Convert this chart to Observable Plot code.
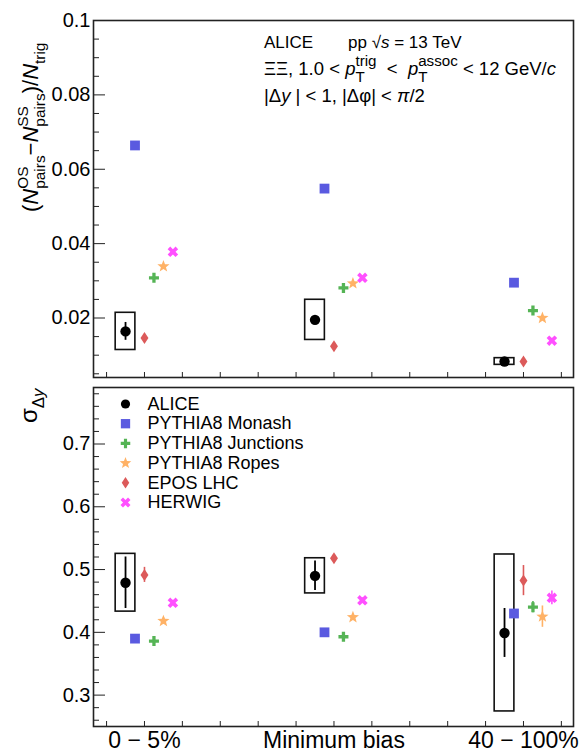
<!DOCTYPE html>
<html><head><meta charset="utf-8">
<script src="https://cdn.jsdelivr.net/npm/d3@7"></script>
<script src="https://cdn.jsdelivr.net/npm/@observablehq/plot@0.6"></script>
<style>
body{margin:0;background:#fff;}
#wrap{position:relative;width:585px;height:754px;overflow:hidden;}
#wrap svg{position:absolute;left:0;overflow:visible;}
</style></head><body><div id="wrap"></div>
<script>
const FONT = "'Liberation Sans', Arial, Helvetica, sans-serif";

// ---- categories / series ----
const categories = ["0 − 5%", "Minimum bias", "40 − 100%"];
const seriesOrder = ["ALICE", "PYTHIA8 Monash", "EPOS LHC", "PYTHIA8 Junctions", "PYTHIA8 Ropes", "HERWIG"]; // order along x inside a class
const legendOrder = ["ALICE", "PYTHIA8 Monash", "PYTHIA8 Junctions", "PYTHIA8 Ropes", "EPOS LHC", "HERWIG"];

// ---- top panel: (N_OS - N_SS)/N_trig ----
const aliceYield      = [0.0164, 0.0195, 0.0083];
const aliceYieldStat  = [0.0024, 0.0008, 0.0004];
const aliceYieldSyst  = [0.0050, 0.0054, 0.0009];
const monashYield     = [0.0664, 0.0548, 0.0295];
const eposYield       = [0.0146, 0.0124, 0.0083];
const junctionsYield  = [0.0308, 0.0281, 0.0220];
const ropesYield      = [0.0339, 0.0293, 0.0200];
const herwigYield     = [0.0378, 0.0308, 0.0139];

// ---- bottom panel: sigma_Delta y ----
const aliceSigma      = [0.479, 0.490, 0.399];
const aliceSigmaStat  = [0.041, 0.0235, 0.039];
const aliceSigmaSyst  = [0.046, 0.028, 0.125];
const monashSigma     = [0.390, 0.400, 0.430];
const monashSigmaErr  = [0.003, 0.003, 0.006];
const eposSigma       = [0.4915, 0.518, 0.4824];
const eposSigmaErr    = [0.012, 0.006, 0.024];
const junctionsSigma  = [0.386, 0.393, 0.440];
const junctionsSigmaErr = [0.004, 0.004, 0.009];
const ropesSigma      = [0.418, 0.424, 0.425];
const ropesSigmaErr   = [0.005, 0.005, 0.017];
const herwigSigma     = [0.447, 0.451, 0.455];
const herwigSigmaErr  = [0.004, 0.004, 0.011];

// ---- axis ticks ----
const yTopMajor = [0.02, 0.04, 0.06, 0.08, 0.1];
const yBotMajor = [0.3, 0.4, 0.5, 0.6, 0.7];

// ---- styles ----
function mk(fn){return {draw(c,size){fn(c, Math.sqrt(size/Math.PI));}};}
function poly(c, pts){pts.forEach(([x,y],i)=> i? c.lineTo(x,y) : c.moveTo(x,y)); c.closePath();}
function plusPts(r, t){return [[-r,-t],[-t,-t],[-t,-r],[t,-r],[t,-t],[r,-t],[r,t],[t,t],[t,r],[-t,r],[-t,t],[-r,t]];}
const symCircle  = mk((c,r)=>{c.moveTo(r,0); c.arc(0,0,r,0,2*Math.PI);});
const symSquare  = mk((c,r)=>poly(c, [[-r,-r],[r,-r],[r,r],[-r,r]]));
const symPlus    = mk((c,r)=>poly(c, plusPts(r, r*0.33)));
const symTimes   = mk((c,r)=>{const s=Math.SQRT1_2; poly(c, plusPts(r, r*0.33).map(([x,y])=>[(x-y)*s,(x+y)*s]));});
const symStar    = mk((c,r)=>{const p=[]; for(let k=0;k<10;k++){const a=-Math.PI/2+k*Math.PI/5, rr=k%2?r*0.42:r; p.push([rr*Math.cos(a), rr*Math.sin(a)]);} poly(c,p);});
const symDiamond = mk((c,r)=>poly(c, [[0,-r],[0.66*r,0],[0,r],[-0.66*r,0]]));

const style = {
  "ALICE":             {color: "#000000", symbol: symCircle,  r: 5.2},
  "PYTHIA8 Monash":    {color: "#5a5ae0", symbol: symSquare,  r: 4.9},
  "EPOS LHC":          {color: "#dc5a5a", symbol: symDiamond, r: 6},
  "PYTHIA8 Junctions": {color: "#55b455", symbol: symPlus,    r: 5},
  "PYTHIA8 Ropes":     {color: "#ffb266", symbol: symStar,    r: 6.4},
  "HERWIG":            {color: "#ff50ff", symbol: symTimes,   r: 5.6}
};
const STEP = 0.05;   // x offset between series inside a class
const BOXHW = 0.052; // half width of systematic boxes
const XDOM = [-0.169, 2.364];

function rowsFor(vals, errs, name){
  const k = seriesOrder.indexOf(name);
  return vals.map((v,i)=>({series:name, x: i + k*STEP, y: v, err: errs ? errs[i] : 0}));
}
const topModels = [
  rowsFor(monashYield, null, "PYTHIA8 Monash"),
  rowsFor(eposYield, null, "EPOS LHC"),
  rowsFor(junctionsYield, null, "PYTHIA8 Junctions"),
  rowsFor(ropesYield, null, "PYTHIA8 Ropes"),
  rowsFor(herwigYield, null, "HERWIG")
];
const botModels = [
  rowsFor(monashSigma, monashSigmaErr, "PYTHIA8 Monash"),
  rowsFor(eposSigma, eposSigmaErr, "EPOS LHC"),
  rowsFor(junctionsSigma, junctionsSigmaErr, "PYTHIA8 Junctions"),
  rowsFor(ropesSigma, ropesSigmaErr, "PYTHIA8 Ropes"),
  rowsFor(herwigSigma, herwigSigmaErr, "HERWIG")
];
const topAlice = rowsFor(aliceYield, aliceYieldStat, "ALICE").map((d,i)=>({...d, syst: aliceYieldSyst[i]}));
const botAlice = rowsFor(aliceSigma, aliceSigmaStat, "ALICE").map((d,i)=>({...d, syst: aliceSigmaSyst[i]}));

const xTicks = d3.range(-0.1, 2.36, 0.2);

function dataMarks(alice, models){
  const m = [];
  m.push(Plot.rect(alice, {x1: d=>d.x-BOXHW, x2: d=>d.x+BOXHW, y1: d=>d.y-d.syst, y2: d=>d.y+d.syst, fill: "none", stroke: "#111", strokeWidth: 1.6}));
  for (const rows of models) {
    const s = style[rows[0].series];
    m.push(Plot.ruleX(rows.filter(d=>d.err>0), {x: "x", y1: d=>d.y-d.err, y2: d=>d.y+d.err, stroke: s.color, strokeWidth: 1.6}));
    m.push(Plot.dot(rows, {x: "x", y: "y", symbol: s.symbol, r: s.r, fill: s.color, stroke: "none"}));
  }
  m.push(Plot.ruleX(alice, {x: "x", y1: d=>d.y-d.err, y2: d=>d.y+d.err, stroke: "#000", strokeWidth: 1.8}));
  m.push(Plot.dot(alice, {x: "x", y: "y", symbol: style.ALICE.symbol, r: style.ALICE.r, fill: "#000", stroke: "none"}));
  return m;
}
function yAxisMarks(major, minor, fmt){
  return [
    Plot.axisY({anchor: "left", ticks: minor, tickSize: 6, dx: 6, tickFormat: ()=>"", label: null, stroke: "#222"}),
    Plot.axisY({anchor: "left", ticks: major, tickSize: 12, dx: 12, tickFormat: ()=>"", label: null, stroke: "#222"}),
    Plot.axisY({anchor: "left", ticks: major, tickSize: 0, tickPadding: 3, tickFormat: fmt, label: null, fontSize: 20, fill: "#000"})
  ];
}
const common = {
  width: 585, marginLeft: 93, marginRight: 12,
  style: {fontFamily: FONT, fontSize: "20px", color: "#000", background: "transparent"}
};

const wrap = document.getElementById("wrap");

// ---------- top panel ----------
const yTopMinor = d3.range(0.005, 0.1001, 0.005).filter(v => !yTopMajor.some(t => Math.abs(t-v) < 1e-9));
const topPlot = Plot.plot({
  ...common, height: 380, marginTop: 20, marginBottom: 3,
  x: {domain: XDOM}, y: {domain: [0.004, 0.1]},
  marks: [
    ...dataMarks(topAlice, topModels),
    ...yAxisMarks(yTopMajor, yTopMinor, d => String(d)),
    Plot.axisX({anchor: "bottom", ticks: xTicks, tickSize: 5, dy: -5, tickFormat: ()=>"", label: null, stroke: "#222"}),
    Plot.frame({stroke: "#222", strokeWidth: 1.6})
  ]
});
topPlot.style.top = "0px";
wrap.appendChild(topPlot);

// ---------- bottom panel ----------
const yBotMinor = d3.range(0.26, 0.7801, 0.02).filter(v => !yBotMajor.some(t => Math.abs(t-v) < 1e-9));
const legendMarks = legendOrder.flatMap((name, i) => {
  const s = style[name];
  const dy = 16.5 + i*19.7;
  return [
    Plot.dot([name], {frameAnchor: "top-left", dx: 32, dy, symbol: s.symbol, r: name === "ALICE" ? 4.6 : s.r*0.95, fill: s.color}),
    Plot.text([name], {frameAnchor: "top-left", dx: 54, dy, text: d=>d, textAnchor: "start", lineAnchor: "middle", fontSize: 18, fill: "#000"})
  ];
});
const bottomPlot = Plot.plot({
  ...common, height: 374, marginTop: 7, marginBottom: 28,
  x: {domain: XDOM}, y: {domain: [0.25, 0.79]},
  marks: [
    ...dataMarks(botAlice, botModels),
    ...yAxisMarks(yBotMajor, yBotMinor, d => String(d)),
    Plot.axisX({anchor: "bottom", ticks: xTicks, tickSize: 5, dy: -5, tickFormat: ()=>"", label: null, stroke: "#222"}),
    Plot.axisX({anchor: "bottom", ticks: categories.map((c,i)=>i+0.1), tickSize: 0, tickPadding: 5, tickFormat: (d,i)=>categories[i], label: null, fontSize: 23, fill: "#000"}),
    ...legendMarks,
    Plot.frame({stroke: "#222", strokeWidth: 1.6})
  ]
});
bottomPlot.style.top = "380px";
wrap.appendChild(bottomPlot);

// ---------- rich text (titles / annotations) ----------
function rich(svg, x, y, rotate, size, parts){
  const g = d3.select(svg).append("g").attr("transform", `translate(${x},${y}) rotate(${rotate})`)
    .attr("font-family", FONT).attr("fill", "#000").attr("text-anchor", "start");
  let cx = 0;
  for (const p of parts){
    const items = Array.isArray(p) ? p : [typeof p === "string" ? {t: p} : p];
    let w = 0;
    for (const q of items){
      const t = g.append("text").attr("x", cx).attr("y", (q.dy||0)*size).attr("text-anchor", "start")
        .attr("font-size", size*(q.s||1)).style("white-space", "pre").text(q.t);
      if (q.i) t.attr("font-style", "italic");
      w = Math.max(w, t.node().getComputedTextLength());
    }
    cx += w;
  }
  return g;
}
const sup = (t, s=0.7) => ({t, s, dy: -0.45});
const sub = (t, s=0.7) => ({t, s, dy: 0.3});
const it = t => ({t, i: true});

rich(topPlot, 38, 212, -90, 22, ["(", it("N"), [sup("OS"), sub("pairs")], "−", it("N"), [sup("SS"), sub("pairs")], ")/", it("N"), sub("trig")]);
rich(bottomPlot, 37, 43, -90, 24, ["σ", sub("Δ", 0.7), {t: "y", s: 0.7, dy: 0.3, i: true}]);

rich(topPlot, 264, 48, 0, 17, ["ALICE"]);
rich(topPlot, 348, 48, 0, 17, ["pp ", "√", it("s"), " = 13 TeV"]);
rich(topPlot, 264, 75, 0, 18.5, ["ΞΞ, 1.0 < ", it("p"), [{t: "trig", s: 0.82, dy: -0.5}, {t: "T", s: 0.82, dy: 0.4}], "  <  ", it("p"), [{t: "assoc", s: 0.82, dy: -0.5}, {t: "T", s: 0.82, dy: 0.4}], " < 12 GeV/", it("c")]);
rich(topPlot, 264, 102, 0, 18.5, ["|Δ", it("y"), " | < 1, |Δφ| < ", it("π"), "/2"]);
</script></body></html>
